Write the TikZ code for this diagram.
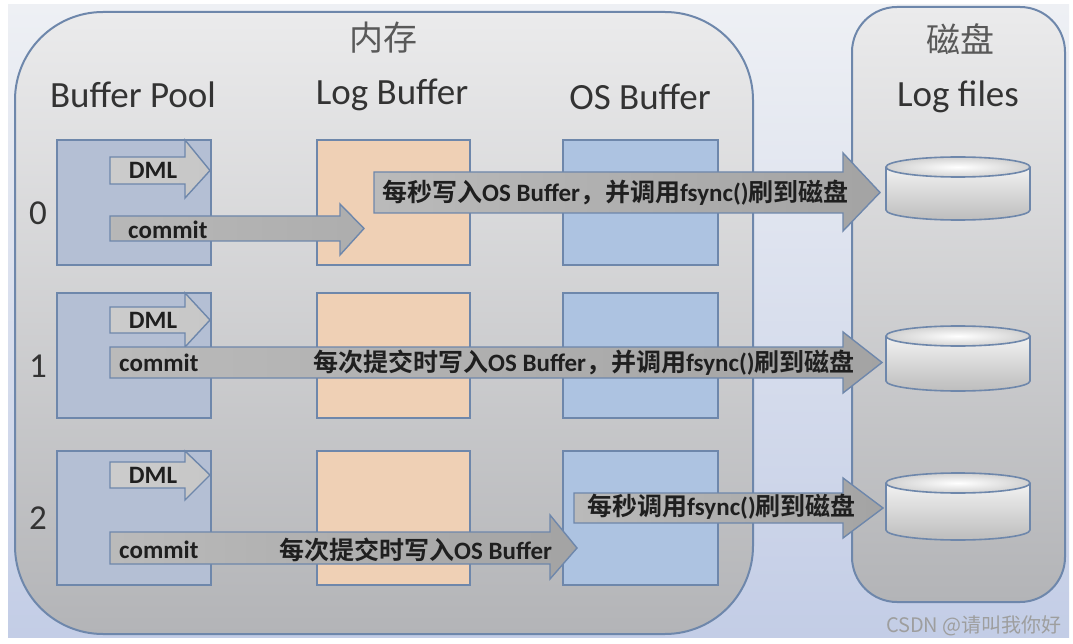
\documentclass[tikz,border=0pt]{standalone}
\usepackage{fontspec}
\setmainfont{Carlito}
\newfontfamily\lfont{Carlito}
\newfontfamily\cjkr{Noto Sans CJK SC}
\newfontfamily\cjkb{Noto Sans CJK SC Bold}
\definecolor{edge}{HTML}{6E87AB}
\definecolor{bpfill}{HTML}{B4BFD4}
\definecolor{lbfill}{HTML}{EFD0B5}
\definecolor{osfill}{HTML}{ADC3E1}
\definecolor{bgtop}{HTML}{EEF0F4}
\definecolor{bgbot}{HTML}{C3CDE6}
\definecolor{memtop}{HTML}{EBEBEC}
\definecolor{membot}{HTML}{B3B4B7}
\newcommand\lb[1]{{\lfont\bfseries #1}}
\newcommand\cb[1]{{\cjkb #1}}
% #1 style, #2 x start, #3 head base x, #4 tip x, #5 body top, #6 body bottom, #7 head top, #8 head bottom
\newcommand\blockarrow[8]{%
  \path[#1] (#2,#5) -- (#3,#5) -- (#3,#7) -- (#4,{(#5+#6)/2}) -- (#3,#8) -- (#3,#6) -- (#2,#6) -- cycle;}
% #1 top ellipse centre y, #2 bottom ellipse centre y
\newcommand\diskcyl[2]{%
  \path[cylbody] (886,#1) -- (886,#2) arc[start angle=180,end angle=360,x radius=72pt,y radius=10pt] -- (1030,#1) -- cycle;
  \draw[edge, line width=1.6pt] (886,#1) -- (886,#2) arc[start angle=180,end angle=360,x radius=72pt,y radius=10pt] -- (1030,#1);
  \path[cyltop] (958,#1) ellipse[x radius=72pt,y radius=10pt];}
\begin{document}
\begin{tikzpicture}[x=1pt,y=-1pt,
  hdr/.style={font=\lfont\fontsize{37}{42}\selectfont, text=black!80, inner sep=0},
  cnhdr/.style={font=\cjkr\fontsize{34}{38}\selectfont, text=black!65, inner sep=0},
  rowlbl/.style={font=\lfont\fontsize{35}{40}\selectfont, text=black!80, inner sep=0},
  lbl/.style={font=\fontsize{25}{30}\selectfont, text=black!88, inner sep=0, anchor=west},
  bpbox/.style={draw=edge, line width=1.8pt, fill=bpfill},
  lbbox/.style={draw=edge, line width=1.8pt, fill=lbfill},
  osbox/.style={draw=edge, line width=1.8pt, fill=osfill},
  dmlarrow/.style={draw=edge, line width=1.4pt, left color=black!20, middle color=white, right color=black!22},
  commitarrow/.style={draw=edge, line width=1.4pt, left color=black!28, middle color=white, right color=black!32},
  longarrow/.style={draw=edge, line width=1.4pt, left color=black!27, right color=black!36},
  cylbody/.style={top color=black!5, bottom color=black!26},
  cyltop/.style={draw=edge, line width=1.6pt, inner color=white, outer color=black!18},
  ]
\useasboundingbox (0,0) rectangle (1073,644);
\fill[white] (0,0) rectangle (1073,644);
% canvas
\path[top color=bgtop, bottom color=bgbot] (8,5) rectangle (1069,637);
% memory and disk containers
\path[draw=edge, line width=2pt, top color=memtop, bottom color=membot, rounded corners=88pt] (15,12) rectangle (753,634);
\path[draw=edge, line width=2pt, top color=memtop, bottom color=membot, rounded corners=45pt] (852,7) rectangle (1065,602);
% headers
\node[cnhdr] (mem) at (383,38) {内存};
\node[cnhdr] (disk) at (960,39) {磁盘};
\node[hdr] (hbp) at (133,95) {Buffer Pool};
\node[hdr] (hlb) at (392,95) {Log Buffer};
\node[hdr] (hos) at (640,97) {OS Buffer};
\node[hdr] (hlf) at (958,97) {Log files};
\node[rowlbl] (r0) at (38,213) {0};
\node[rowlbl] (r1) at (38,366) {1};
\node[rowlbl] (r2) at (38,518) {2};
% buffer boxes
\foreach \yt/\yb in {140/265, 293/418, 451/585}{
  \path[bpbox] (57,\yt) rectangle (211,\yb);
  \path[lbbox] (317,\yt) rectangle (470,\yb);
  \path[osbox] (563,\yt) rectangle (718,\yb);
}
% disks
\diskcyl{167}{210}
\diskcyl{336}{381}
\diskcyl{483}{530}
% row 0
\blockarrow{dmlarrow}{110}{185}{210}{157}{184}{140}{198}
\node[lbl, anchor=center] (d0) at (153,170) {\lb{DML}};
\blockarrow{commitarrow}{110}{340}{364}{216}{241}{204}{255}
\node[lbl] (c0) at (128,230) {\lb{commit}};
\blockarrow{longarrow}{374}{843}{880}{172}{213}{153}{231}
\node[lbl] (t0) at (382,193) {\cb{每秒写入}\lb{OS Buffer}\cb{，并调用}\lb{fsync()}\cb{刷到磁盘}};
% row 1
\blockarrow{dmlarrow}{110}{185}{210}{307}{333}{293}{347}
\node[lbl, anchor=center] (d1) at (153,320) {\lb{DML}};
\blockarrow{longarrow}{110}{843}{882}{347}{378}{332}{393}
\node[lbl] (c1) at (119,363) {\lb{commit}};
\node[lbl] (t1) at (313,363) {\cb{每次提交时写入}\lb{OS Buffer}\cb{，并调用}\lb{fsync()}\cb{刷到磁盘}};
% row 2
\blockarrow{dmlarrow}{110}{185}{210}{462}{488}{451}{500}
\node[lbl, anchor=center] (d2) at (153,475) {\lb{DML}};
\blockarrow{longarrow}{110}{550}{577}{532}{564}{515}{579}
\node[lbl] (c2) at (119,550) {\lb{commit}};
\node[lbl] (t2) at (279,550) {\cb{每次提交时写入}\lb{OS Buffer}};
\blockarrow{longarrow}{574}{843}{883}{493}{523}{478}{538}
\node[lbl] (t3) at (587,507) {\cb{每秒调用}\lb{fsync()}\cb{刷到磁盘}};
% watermark
\node[font=\cjkr\fontsize{20}{24}\selectfont, text=black!38, inner sep=0, anchor=east] (wm) at (1062,626) {CSDN @请叫我你好};
\end{tikzpicture}
\end{document}
